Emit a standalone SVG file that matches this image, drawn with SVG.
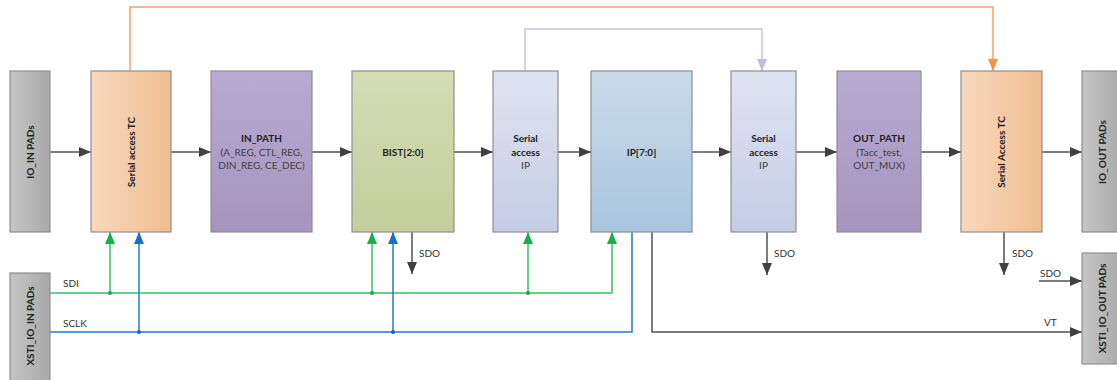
<svg xmlns="http://www.w3.org/2000/svg" width="1117" height="380" viewBox="0 0 1117 380">
<style>
.box{stroke:#8f8f8f;stroke-width:1.2}
.t{font-family:Lato,"Open Sans","Liberation Sans",sans-serif;font-size:10px;fill:#222;text-anchor:middle}
.b{font-weight:bold}
.r{fill:#404040}
.lbl{font-family:Lato,"Open Sans","Liberation Sans",sans-serif;font-size:10px;fill:#333}
.k{fill:none;stroke:#505050;stroke-width:1.5}
.g{fill:none;stroke:#35c06a;stroke-width:1.5}
.bl{fill:none;stroke:#2079d0;stroke-width:1.5}
.o{fill:none;stroke:#f4a26a;stroke-width:1.5}
.lv{fill:none;stroke:#c9c5de;stroke-width:1.5}
</style>
<defs>
<linearGradient id="gPad" x1="0" y1="0" x2="1" y2="0"><stop offset="0" stop-color="#c6c6c6"/><stop offset="1" stop-color="#a8a8a8"/></linearGradient>
<linearGradient id="gTC" x1="0" y1="0" x2="1" y2="0"><stop offset="0" stop-color="#f9d8bd"/><stop offset="1" stop-color="#efbe91"/></linearGradient>
<linearGradient id="gPur" x1="0" y1="0" x2="0" y2="1"><stop offset="0" stop-color="#b7abd2"/><stop offset="1" stop-color="#a594bf"/></linearGradient>
<linearGradient id="gGrn" x1="0" y1="0" x2="0" y2="1"><stop offset="0" stop-color="#d4ddb4"/><stop offset="1" stop-color="#c4cd9b"/></linearGradient>
<linearGradient id="gSA" x1="0" y1="0" x2="0" y2="1"><stop offset="0" stop-color="#dfe3f0"/><stop offset="1" stop-color="#c5cce6"/></linearGradient>
<linearGradient id="gIP" x1="0" y1="0" x2="0" y2="1"><stop offset="0" stop-color="#c9dbea"/><stop offset="1" stop-color="#a9c5de"/></linearGradient>
<marker id="ak" markerWidth="12" markerHeight="10" refX="12" refY="5" orient="auto" markerUnits="userSpaceOnUse"><path d="M0,0 L12,5 L0,10 z" fill="#404040"/></marker>
<marker id="ag" markerWidth="12" markerHeight="10" refX="12" refY="5" orient="auto" markerUnits="userSpaceOnUse"><path d="M0,0 L12,5 L0,10 z" fill="#12b04c"/></marker>
<marker id="ab" markerWidth="12" markerHeight="10" refX="12" refY="5" orient="auto" markerUnits="userSpaceOnUse"><path d="M0,0 L12,5 L0,10 z" fill="#1870cc"/></marker>
<marker id="ao" markerWidth="12" markerHeight="10" refX="12" refY="5" orient="auto" markerUnits="userSpaceOnUse"><path d="M0,0 L12,5 L0,10 z" fill="#f09448"/></marker>
<marker id="alv" markerWidth="12" markerHeight="10" refX="12" refY="5" orient="auto" markerUnits="userSpaceOnUse"><path d="M0,0 L12,5 L0,10 z" fill="#c3bbdc"/></marker>
</defs>

<g id="connectors">
<path class="o" d="M130,71 V7 H993 V71" marker-end="url(#ao)"/>
<path class="lv" d="M525,71 V29 H762 V71" marker-end="url(#alv)"/>
<path class="k" d="M50,152 H91" marker-end="url(#ak)"/>
<path class="k" d="M171,152 H211" marker-end="url(#ak)"/>
<path class="k" d="M312,152 H352" marker-end="url(#ak)"/>
<path class="k" d="M454,152 H493" marker-end="url(#ak)"/>
<path class="k" d="M558,152 H591" marker-end="url(#ak)"/>
<path class="k" d="M692,152 H731" marker-end="url(#ak)"/>
<path class="k" d="M796,152 H837" marker-end="url(#ak)"/>
<path class="k" d="M921,152 H961" marker-end="url(#ak)"/>
<path class="k" d="M1042,152 H1082" marker-end="url(#ak)"/>
<path class="k" d="M412,232 V274" marker-end="url(#ak)"/>
<path class="k" d="M767,232 V275" marker-end="url(#ak)"/>
<path class="k" d="M1004,232 V275" marker-end="url(#ak)"/>
<path class="k" d="M1039,281 H1082" marker-end="url(#ak)"/>
<path class="k" d="M652,232 V332 H1082" marker-end="url(#ak)"/>
<path class="g" d="M50,293 H612 V232" marker-end="url(#ag)"/>
<path class="g" d="M110,293 V232" marker-end="url(#ag)"/>
<path class="g" d="M372,293 V232" marker-end="url(#ag)"/>
<path class="g" d="M528,293 V232" marker-end="url(#ag)"/>
<path class="bl" d="M50,332 H632 V232"/>
<path class="bl" d="M139,332 V232" marker-end="url(#ab)"/>
<path class="bl" d="M393,332 V232" marker-end="url(#ab)"/>
<circle cx="110" cy="293" r="2" fill="#20a050"/>
<circle cx="372" cy="293" r="2" fill="#20a050"/>
<circle cx="528" cy="293" r="2" fill="#20a050"/>
<circle cx="139" cy="332" r="2" fill="#1a65b8"/>
<circle cx="393" cy="332" r="2" fill="#1a65b8"/>
<text class="lbl" x="63" y="287">SDI</text>
<text class="lbl" x="63" y="327">SCLK</text>
<text class="lbl" x="419" y="257">SDO</text>
<text class="lbl" x="774" y="257">SDO</text>
<text class="lbl" x="1012" y="257">SDO</text>
<text class="lbl" x="1040" y="277">SDO</text>
<text class="lbl" x="1044" y="326">VT</text>
</g>

<g id="io_in_pads">
<rect class="box" x="10" y="71" width="40" height="161" fill="url(#gPad)"/>
<text class="t b" transform="translate(33.5,152) rotate(-90)">IO_IN PADs</text>
</g>
<g id="serial_tc_in">
<rect class="box" x="91" y="71" width="80" height="161" fill="url(#gTC)"/>
<text class="t b" transform="translate(134.5,152) rotate(-90)">Serial access TC</text>
</g>
<g id="in_path">
<rect class="box" x="211" y="71" width="101" height="161" fill="url(#gPur)"/>
<text class="t b" x="261.5" y="142">IN_PATH</text>
<text class="t r" x="261.5" y="156">(A_REG, CTL_REG,</text>
<text class="t r" x="261.5" y="169">DIN_REG, CE_DEC)</text>
</g>
<g id="bist">
<rect class="box" x="352" y="71" width="102" height="161" fill="url(#gGrn)"/>
<text class="t b" x="403" y="156">BIST[2:0]</text>
</g>
<g id="serial_ip_1">
<rect class="box" x="493" y="71" width="65" height="161" fill="url(#gSA)"/>
<text class="t b" x="525.5" y="142">Serial</text>
<text class="t b" x="525.5" y="156">access</text>
<text class="t r" x="525.5" y="169">IP</text>
</g>
<g id="ip">
<rect class="box" x="591" y="71" width="101" height="161" fill="url(#gIP)"/>
<text class="t b" x="641.5" y="156">IP[7:0]</text>
</g>
<g id="serial_ip_2">
<rect class="box" x="731" y="71" width="65" height="161" fill="url(#gSA)"/>
<text class="t b" x="763.5" y="142">Serial</text>
<text class="t b" x="763.5" y="156">access</text>
<text class="t r" x="763.5" y="169">IP</text>
</g>
<g id="out_path">
<rect class="box" x="837" y="71" width="84" height="161" fill="url(#gPur)"/>
<text class="t b" x="879" y="142">OUT_PATH</text>
<text class="t r" x="879" y="156">(Tacc_test,</text>
<text class="t r" x="879" y="169">OUT_MUX)</text>
</g>
<g id="serial_tc_out">
<rect class="box" x="961" y="71" width="81" height="161" fill="url(#gTC)"/>
<text class="t b" transform="translate(1005,152) rotate(-90)">Serial Access TC</text>
</g>
<g id="io_out_pads">
<rect class="box" x="1082" y="71" width="40" height="161" fill="url(#gPad)"/>
<text class="t b" transform="translate(1105.5,152) rotate(-90)">IO_OUT PADs</text>
</g>
<g id="xsti_io_in_pads">
<rect class="box" x="10" y="273" width="40" height="110" fill="url(#gPad)"/>
<text class="t b" transform="translate(33.5,326) rotate(-90)">XSTI_IO_IN PADs</text>
</g>
<g id="xsti_io_out_pads">
<rect class="box" x="1082" y="253" width="40" height="111" fill="url(#gPad)"/>
<text class="t b" transform="translate(1105.5,308.5) rotate(-90)">XSTI_IO_OUT PADs</text>
</g>
</svg>
